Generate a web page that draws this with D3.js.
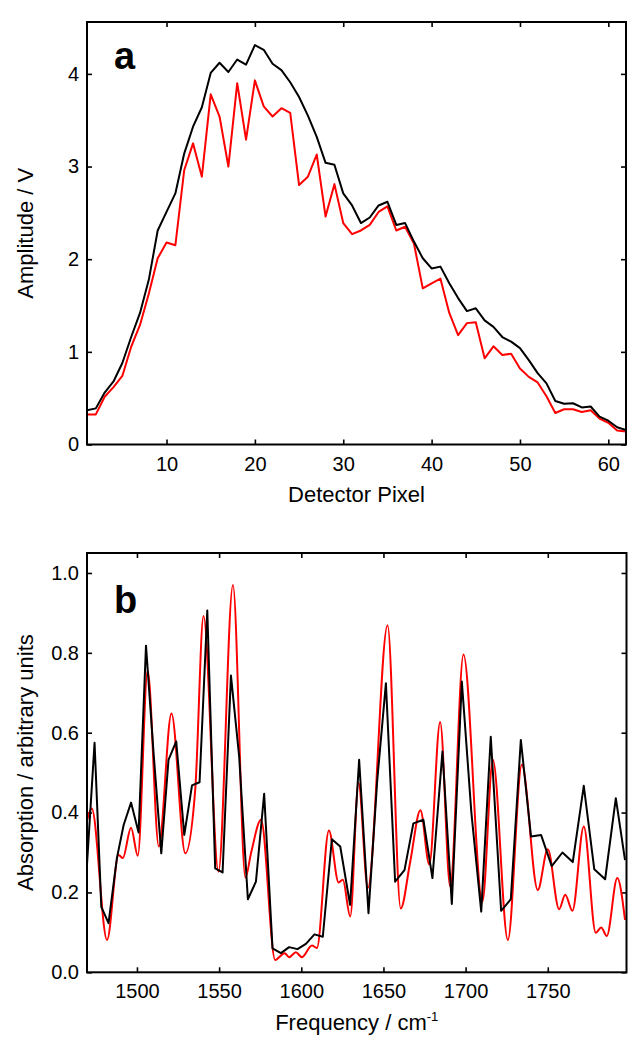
<!DOCTYPE html>
<html>
<head>
<meta charset="utf-8">
<script src="https://cdn.jsdelivr.net/npm/d3@7"></script>
<style>
  body { margin: 0; background: #fff; }
  text { font-family: "Liberation Sans", Arial, sans-serif; fill: #000; }
  .tick line { stroke: #000; stroke-width: 1.6; }
  .tick text { font-size: 20px; }
</style>
</head>
<body>
<div id="chart"></div>
<script>
// Panel a: detector pixel amplitudes
var pixels = [1,2,3,4,5,6,7,8,9,10,11,12,13,14,15,16,17,18,19,20,21,22,23,24,25,26,27,28,29,30,
  31,32,33,34,35,36,37,38,39,40,41,42,43,44,45,46,47,48,49,50,51,52,53,54,55,56,57,58,59,60,61,62];
var ampBlack = [0.37,0.39,0.56,0.68,0.88,1.16,1.42,1.78,2.31,2.51,2.71,3.14,3.43,3.64,4.01,4.12,4.02,4.155,4.10,4.31,
  4.26,4.11,4.04,3.91,3.75,3.55,3.32,3.04,3.02,2.71,2.58,2.39,2.45,2.58,2.62,2.37,2.39,2.19,2.01,1.90,
  1.92,1.74,1.58,1.44,1.47,1.34,1.27,1.16,1.11,1.04,0.91,0.77,0.66,0.47,0.44,0.445,0.40,0.41,0.30,0.257,0.186,0.156];
var ampRed = [0.325,0.325,0.515,0.62,0.74,1.055,1.29,1.63,2.01,2.18,2.15,2.96,3.25,2.89,3.78,3.54,3.0,3.90,3.29,3.93,
  3.65,3.54,3.63,3.58,2.80,2.89,3.13,2.46,2.81,2.39,2.27,2.31,2.37,2.51,2.57,2.31,2.35,2.17,1.685,1.74,
  1.79,1.42,1.18,1.31,1.32,0.93,1.06,0.966,0.98,0.82,0.73,0.67,0.52,0.34,0.38,0.38,0.35,0.37,0.28,0.235,0.15,0.14];
var pixelTicks = [10, 20, 30, 40, 50, 60];
var ampTicks = [0, 1, 2, 3, 4];

// Panel b: absorption spectrum
var freqBlack = [1469.6,1474.2,1478.3,1482.7,1487.8,1491.9,1496.4,1501,1505.5,1510.1,1514.8,1519.2,1523.9,1528.8,1533.5,
  1538.1,1542.8,1547.6,1552.1,1557.2,1562.2,1567.5,1572.4,1577.4,1582.5,1587.6,1592.6,1597.7,1602.8,1608,1613.1,
  1618.6,1623.7,1629.7,1635.2,1640.9,1646.2,1651.5,1657.1,1662.8,1668.2,1674.3,1679.8,1685.9,1691.6,1697.7,1703.5,
  1709.5,1715.3,1721.6,1727.5,1733.6,1739.8,1745.9,1752.4,1758.9,1765.2,1771.9,1778.3,1784.9,1791.4,1797];
var absBlack = [0.27,0.575,0.164,0.123,0.286,0.369,0.425,0.35,0.818,0.55,0.298,0.532,0.578,0.344,0.468,
  0.476,0.906,0.26,0.25,0.743,0.54,0.183,0.227,0.447,0.06,0.048,0.063,0.058,0.071,0.095,0.089,
  0.333,0.315,0.169,0.532,0.148,0.48,0.724,0.227,0.256,0.373,0.382,0.236,0.553,0.171,0.728,0.40,
  0.152,0.59,0.154,0.183,0.582,0.34,0.344,0.266,0.30,0.276,0.467,0.258,0.233,0.436,0.281];
var freqRed = [1469.6,1472.5,1481.8,1488.8,1491.4,1496.4,1500.5,1506.5,1513.3,1521,1529.4,1535.5,1540.5,1549.6,1558.4,
  1566,1569.5,1575.5,1584.1,1589.9,1592.6,1596.7,1600.4,1606.5,1609.5,1616.8,1622.7,1625.3,1629.8,1634.8,1640.5,
  1652.5,1660.5,1666.3,1672.5,1677.9,1684.5,1690.6,1698.7,1710.2,1716.6,1725.7,1734.2,1743.9,1750,1756.9,1760.6,
  1765,1771.9,1779.2,1782.5,1785.9,1792.3,1797];
var absRed = [0.38,0.41,0.081,0.294,0.286,0.362,0.292,0.755,0.315,0.648,0.298,0.46,0.892,0.252,0.97,
  0.237,0.3,0.382,0.031,0.048,0.038,0.05,0.038,0.067,0.061,0.355,0.225,0.232,0.14,0.474,0.211,
  0.869,0.16,0.277,0.406,0.27,0.627,0.215,0.796,0.177,0.532,0.081,0.52,0.206,0.308,0.158,0.194,
  0.154,0.365,0.099,0.112,0.091,0.236,0.131];
var freqTicks = [1500, 1550, 1600, 1650, 1700, 1750];
var absTicks = [0.0, 0.2, 0.4, 0.6, 0.8, 1.0];

var svg_width = 644;
var svg_height = 1050;

var svg = d3.select("#chart")
  .append("svg")
  .attr("width", svg_width)
  .attr("height", svg_height);

// draw one framed panel with inward ticks on all four sides
function drawPanel(opt) {
  var g = svg.append("g").attr("transform", `translate(${opt.left}, ${opt.top})`);
  var w = opt.width, h = opt.height;

  var x = d3.scaleLinear().domain(opt.xDomain).range([0, w]);
  var y = d3.scaleLinear().domain(opt.yDomain).range([h, 0]);

  g.append("clipPath").attr("id", opt.id + "-clip")
    .append("rect").attr("width", w).attr("height", h);

  var bottom = g.append("g").attr("transform", `translate(0, ${h})`)
    .call(d3.axisBottom(x).tickValues(opt.xTicks).tickSizeInner(-5).tickSizeOuter(0)
      .tickPadding(12).tickFormat(d3.format("d")));
  var top = g.append("g")
    .call(d3.axisTop(x).tickValues(opt.xTicks).tickSizeInner(-5).tickSizeOuter(0).tickFormat(""));
  var left = g.append("g")
    .call(d3.axisLeft(y).tickValues(opt.yTicks).tickSizeInner(-5).tickSizeOuter(0)
      .tickPadding(8).tickFormat(opt.yFormat));
  var right = g.append("g").attr("transform", `translate(${w}, 0)`)
    .call(d3.axisRight(y).tickValues(opt.yTicks).tickSizeInner(-5).tickSizeOuter(0).tickFormat(""));
  [bottom, top, left, right].forEach(function(a) { a.select(".domain").remove(); });

  var plot = g.append("g").attr("clip-path", `url(#${opt.id}-clip)`);
  opt.series.forEach(function(s) {
    var line = d3.line()
      .x(function(d) { return x(d[0]); })
      .y(function(d) { return y(d[1]); })
      .curve(s.curve);
    plot.append("path")
      .datum(d3.zip(s.xs, s.ys))
      .attr("fill", "none")
      .attr("stroke", s.color)
      .attr("stroke-width", 2)
      .attr("stroke-linejoin", "round")
      .attr("d", line);
  });

  g.append("rect")
    .attr("width", w).attr("height", h)
    .attr("fill", "none").attr("stroke", "#000").attr("stroke-width", 2);

  g.append("text")
    .attr("x", 27).attr("y", opt.labelY)
    .attr("font-size", "38px").attr("font-weight", "bold")
    .text(opt.label);

  g.append("text")
    .attr("x", w / 2).attr("y", h + opt.xTitleGap)
    .attr("text-anchor", "middle")
    .attr("font-size", "22px")
    .call(opt.xTitle);

  g.append("text")
    .attr("transform", "rotate(-90)")
    .attr("x", -h / 2).attr("y", -54)
    .attr("text-anchor", "middle")
    .attr("font-size", "22px")
    .text(opt.yTitle);
}

drawPanel({
  id: "a", left: 87, top: 22, width: 539, height: 422.5,
  xDomain: [1, 62], yDomain: [0, 4.56],
  xTicks: pixelTicks, yTicks: ampTicks, yFormat: d3.format("d"),
  label: "a", labelY: 47, xTitleGap: 57,
  xTitle: function(t) { t.text("Detector Pixel"); },
  yTitle: "Amplitude / V",
  series: [
    { xs: pixels, ys: ampRed, color: "#ff0000", curve: d3.curveLinear },
    { xs: pixels, ys: ampBlack, color: "#000000", curve: d3.curveLinear }
  ]
});

drawPanel({
  id: "b", left: 87, top: 553, width: 539.5, height: 419.3,
  xDomain: [1469.6, 1797.9], yDomain: [0, 1.05],
  xTicks: freqTicks, yTicks: absTicks, yFormat: d3.format(".1f"),
  label: "b", labelY: 60, xTitleGap: 58,
  xTitle: function(t) {
    t.append("tspan").text("Frequency / cm");
    t.append("tspan").attr("dy", -9).attr("font-size", "13px").text("-1");
  },
  yTitle: "Absorption / arbitrary units",
  series: [
    { xs: freqRed, ys: absRed, color: "#ff0000", curve: d3.curveMonotoneX },
    { xs: freqBlack, ys: absBlack, color: "#000000", curve: d3.curveLinear }
  ]
});
</script>
</body>
</html>
